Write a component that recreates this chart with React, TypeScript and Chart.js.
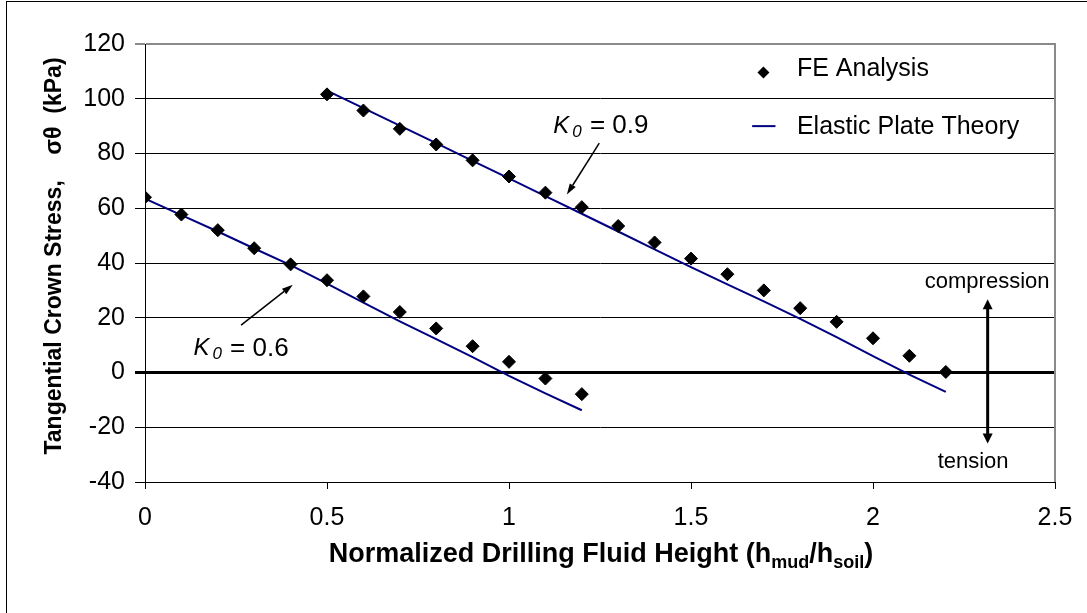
import React, { useEffect, useRef } from "react";
import { Chart, registerables } from "chart.js";

Chart.register(...registerables);

const FONT = '"Liberation Sans", Arial, Helvetica, sans-serif';

// ---------- data ----------
const xK06 = [0, 0.1, 0.2, 0.3, 0.4, 0.5, 0.6, 0.7, 0.8, 0.9, 1.0, 1.1, 1.2];
const feK06 = [64, 57.7, 52, 45.4, 39.5, 33.7, 27.8, 22.1, 16.1, 9.6, 3.9, -2.2, -7.9];
const thK06 = [63.5, 57.5, 51.5, 45.3, 39.2, 32.5, 25.5, 18.7, 12.2, 5.6, -1.2, -7.6, -13.8];

const xK09 = [0.5, 0.6, 0.7, 0.8, 0.9, 1.0, 1.1, 1.2, 1.3, 1.4, 1.5, 1.6, 1.7, 1.8, 1.9, 2.0, 2.1, 2.2];
const feK09 = [101.6, 95.7, 89.0, 83.3, 77.5, 71.6, 65.7, 60.4, 53.5, 47.5, 41.6, 35.9, 30, 23.5, 18.5, 12.5, 6.1, 0.2];
const thK09 = [103, 96.6, 90.2, 83.8, 77.3, 70.9, 64.4, 58, 51.5, 45, 38.5, 32.2, 26, 19.6, 12.9, 6.0, -0.8, -7.1];

const xTicks = [0, 0.5, 1, 1.5, 2, 2.5];
const xTickLabels = ["0", "0.5", "1", "1.5", "2", "2.5"];
const yTicks = [-40, -20, 0, 20, 40, 60, 80, 100, 120];

const seriesNames = ["FE Analysis", "Elastic Plate Theory"];
const yTitle = "Tangential Crown Stress,    σθ  (kPa)";
const xTitleParts = [
  { t: "Normalized Drilling Fluid Height (h", sub: false },
  { t: "mud", sub: true },
  { t: "/h", sub: false },
  { t: "soil", sub: true },
  { t: ")", sub: false },
];
const labelK09 = { k: "K", sub: "0", rest: " = 0.9" };
const labelK06 = { k: "K", sub: "0", rest: " = 0.6" };
const compText = "compression";
const tensText = "tension";

const NAVY = "#000080";

function pts(xs: number[], ys: number[]) {
  return xs.map((x, i) => ({ x, y: ys[i] }));
}

function arrow(ctx: CanvasRenderingContext2D, x1: number, y1: number, x2: number, y2: number, lw: number, hl: number, hw: number) {
  const a = Math.atan2(y2 - y1, x2 - x1);
  const bx = x2 - hl * Math.cos(a);
  const by = y2 - hl * Math.sin(a);
  ctx.lineWidth = lw;
  ctx.beginPath();
  ctx.moveTo(x1, y1);
  ctx.lineTo(bx, by);
  ctx.stroke();
  ctx.beginPath();
  ctx.moveTo(x2, y2);
  ctx.lineTo(bx + (hw / 2) * Math.sin(a), by - (hw / 2) * Math.cos(a));
  ctx.lineTo(bx - (hw / 2) * Math.sin(a), by + (hw / 2) * Math.cos(a));
  ctx.closePath();
  ctx.fill();
}

function kLabel(ctx: CanvasRenderingContext2D, lab: { k: string; sub: string; rest: string }, x: number, y: number) {
  ctx.textAlign = "left";
  ctx.textBaseline = "middle";
  ctx.font = `italic 24px ${FONT}`;
  ctx.fillText(lab.k, x, y);
  let cx = x + ctx.measureText(lab.k).width + 3;
  ctx.font = `italic 17px ${FONT}`;
  ctx.fillText(lab.sub, cx, y + 6);
  cx += ctx.measureText(lab.sub).width + 1;
  ctx.font = `26px ${FONT}`;
  ctx.fillText(lab.rest, cx, y);
}

const decorPlugin = {
  id: "decor",
  beforeDraw(chart: any) {
    const { ctx } = chart;
    ctx.save();
    ctx.fillStyle = "#fff";
    ctx.fillRect(0, 0, chart.width, chart.height);
    ctx.strokeStyle = "#000";
    ctx.lineWidth = 1;
    ctx.strokeRect(6.5, 1.5, chart.width + 20, chart.height + 20);
    ctx.restore();
  },
  afterDraw(chart: any) {
    const { ctx, chartArea } = chart;
    const xs = chart.scales.x;
    const ys = chart.scales.y;
    const X = (v: number) => xs.getPixelForValue(v);
    const Y = (v: number) => ys.getPixelForValue(v);
    ctx.save();

    // right border of plot area
    ctx.strokeStyle = "#8a8a8a";
    ctx.lineWidth = 2;
    ctx.beginPath();
    ctx.moveTo(chartArea.right, chartArea.top - 1);
    ctx.lineTo(chartArea.right, chartArea.bottom);
    ctx.stroke();

    ctx.fillStyle = "#000";
    ctx.strokeStyle = "#000";

    // legend
    ctx.font = `25px ${FONT}`;
    ctx.textAlign = "left";
    ctx.textBaseline = "middle";
    const lx = X(1.699);
    const ly1 = Y(109.6);
    ctx.beginPath();
    ctx.moveTo(lx, ly1 - 6);
    ctx.lineTo(lx + 6, ly1);
    ctx.lineTo(lx, ly1 + 6);
    ctx.lineTo(lx - 6, ly1);
    ctx.closePath();
    ctx.fill();
    ctx.fillText(seriesNames[0], X(1.791), Y(110.8));
    const ly2 = Y(90.0);
    ctx.strokeStyle = NAVY;
    ctx.lineWidth = 2;
    ctx.beginPath();
    ctx.moveTo(X(1.668), ly2);
    ctx.lineTo(X(1.732), ly2);
    ctx.stroke();
    ctx.fillText(seriesNames[1], X(1.791), Y(89.7));

    // K0 labels and arrows
    ctx.strokeStyle = "#000";
    ctx.fillStyle = "#000";
    kLabel(ctx, labelK09, X(1.1215), Y(90.0));
    arrow(ctx, X(1.248), Y(83.8), X(1.159), Y(65.0), 1.5, 11, 7);
    kLabel(ctx, labelK06, X(0.133), Y(8.8));
    arrow(ctx, X(0.264), Y(17.3), X(0.406), Y(32.1), 1.5, 11, 7);

    // compression / tension
    ctx.font = `22px ${FONT}`;
    ctx.textAlign = "center";
    ctx.fillText(compText, X(2.3136), Y(33.1));
    ctx.fillText(tensText, X(2.275), Y(-32.7));
    const ax = X(2.315);
    const top = Y(26.8);
    const bot = Y(-25.9);
    ctx.lineWidth = 3;
    ctx.beginPath();
    ctx.moveTo(ax, top + 8);
    ctx.lineTo(ax, bot - 8);
    ctx.stroke();
    ctx.beginPath();
    ctx.moveTo(ax, top);
    ctx.lineTo(ax - 5, top + 10);
    ctx.lineTo(ax + 5, top + 10);
    ctx.closePath();
    ctx.fill();
    ctx.beginPath();
    ctx.moveTo(ax, bot);
    ctx.lineTo(ax - 5, bot - 10);
    ctx.lineTo(ax + 5, bot - 10);
    ctx.closePath();
    ctx.fill();

    // y title
    ctx.save();
    ctx.translate(55, (chartArea.top + chartArea.bottom) / 2 - 7);
    ctx.rotate(-Math.PI / 2);
    ctx.font = `bold 23px ${FONT}`;
    ctx.textAlign = "center";
    ctx.textBaseline = "middle";
    ctx.fillText(yTitle, 0, 0);
    ctx.restore();

    // x title with subscripts
    const big = `bold 27px ${FONT}`;
    const small = `bold 18px ${FONT}`;
    let total = 0;
    for (const p of xTitleParts) {
      ctx.font = p.sub ? small : big;
      total += ctx.measureText(p.t).width;
    }
    let cx = (chartArea.left + chartArea.right) / 2 + 1 - total / 2;
    const ty = 555;
    ctx.textAlign = "left";
    ctx.textBaseline = "middle";
    for (const p of xTitleParts) {
      ctx.font = p.sub ? small : big;
      ctx.fillText(p.t, cx, p.sub ? ty + 8 : ty);
      cx += ctx.measureText(p.t).width;
    }
    ctx.restore();
  },
};

export default function App() {
  const ref = useRef<HTMLCanvasElement | null>(null);
  useEffect(() => {
    if (!ref.current) return;
    const chart = new Chart(ref.current, {
      type: "scatter",
      data: {
        datasets: [
          {
            label: seriesNames[0],
            data: pts(xK06, feK06),
            pointStyle: "rectRot",
            pointRadius: 6.5,
            backgroundColor: "#000",
            borderColor: "#000",
            borderWidth: 1,
            showLine: false,
          },
          {
            label: seriesNames[0] + " 0.9",
            data: pts(xK09, feK09),
            pointStyle: "rectRot",
            pointRadius: 6.5,
            backgroundColor: "#000",
            borderColor: "#000",
            borderWidth: 1,
            showLine: false,
          },
          {
            label: seriesNames[1],
            data: pts(xK06, thK06),
            showLine: true,
            pointRadius: 0,
            borderColor: NAVY,
            borderWidth: 2,
            backgroundColor: NAVY,
          },
          {
            label: seriesNames[1] + " 0.9",
            data: pts(xK09, thK09),
            showLine: true,
            pointRadius: 0,
            borderColor: NAVY,
            borderWidth: 2,
            backgroundColor: NAVY,
          },
        ],
      },
      options: {
        responsive: false,
        animation: false,
        devicePixelRatio: 1,
        layout: { padding: { left: 0, right: 32, top: 44, bottom: 0 } },
        plugins: {
          legend: { display: false },
          tooltip: { enabled: false },
        },
        scales: {
          x: {
            type: "linear",
            min: 0,
            max: 2.5,
            afterFit: (s: any) => {
              s.height = 131;
            },
            afterBuildTicks: (s: any) => {
              s.ticks = xTicks.map((v) => ({ value: v }));
            },
            ticks: {
              color: "#000",
              font: { family: FONT, size: 25 },
              padding: 14,
              maxRotation: 0,
              autoSkip: false,
              callback: (v: any) => {
                const i = xTicks.indexOf(Number(v));
                return i >= 0 ? xTickLabels[i] : String(v);
              },
            },
            grid: {
              drawOnChartArea: false,
              drawTicks: true,
              tickLength: 7,
              color: "#000",
            },
            border: { display: true, color: "#000", width: 1 },
          },
          y: {
            type: "linear",
            min: -40,
            max: 120,
            afterFit: (s: any) => {
              s.width = 145;
            },
            afterBuildTicks: (s: any) => {
              s.ticks = yTicks.map((v) => ({ value: v }));
            },
            ticks: {
              color: "#000",
              font: { family: FONT, size: 25 },
              padding: 10,
              autoSkip: false,
            },
            grid: {
              drawTicks: true,
              tickLength: 10,
              color: (c: any) => (c.tick && c.tick.value === 120 ? "#8a8a8a" : "#000"),
              lineWidth: (c: any) => (c.tick && c.tick.value === 0 ? 3 : c.tick && c.tick.value === 120 ? 2 : 1),
            },
            border: { display: true, color: "#000", width: 1 },
          },
        },
      },
      plugins: [decorPlugin],
    });
    return () => chart.destroy();
  }, []);
  return (
    <div style={{ position: "fixed", left: 0, top: 0, width: 1087, height: 613, background: "#fff" }}>
      <canvas ref={ref} width={1087} height={613} style={{ display: "block" }} />
    </div>
  );
}
